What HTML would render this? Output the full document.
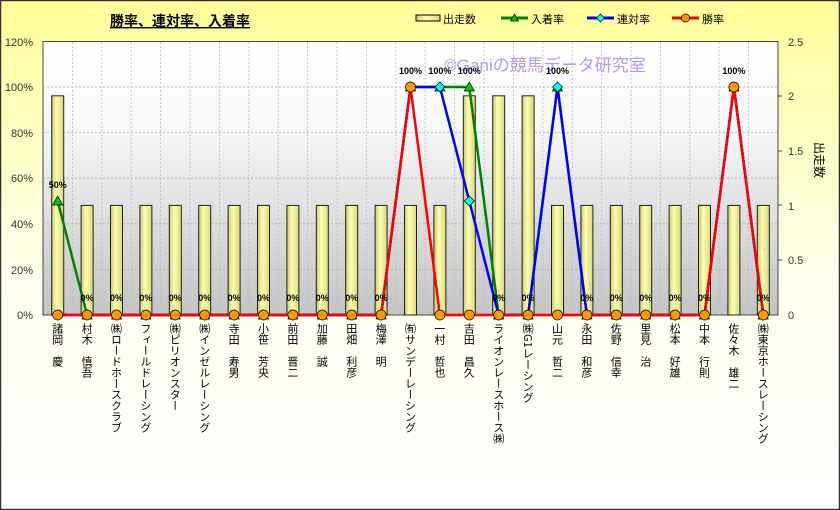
<!DOCTYPE html>
<html><head><meta charset="utf-8"><style>
html,body{margin:0;padding:0;width:840px;height:510px;overflow:hidden}
svg{display:block;font-family:"Liberation Sans","Noto Sans CJK JP",sans-serif}
.v{writing-mode:vertical-rl;-webkit-writing-mode:vertical-rl;font-family:"Noto Sans CJK JP",sans-serif}
</style></head><body>
<svg width="840" height="510" viewBox="0 0 840 510" xmlns="http://www.w3.org/2000/svg">
<defs>
<linearGradient id="bg" x1="0" y1="0" x2="0" y2="1"><stop offset="0" stop-color="#ffff99"/><stop offset="0.55" stop-color="#fffff0"/><stop offset="1" stop-color="#ffffff"/></linearGradient>
<linearGradient id="pa" x1="0" y1="0" x2="0" y2="1"><stop offset="0" stop-color="#ffffff"/><stop offset="0.3" stop-color="#f8f8f8"/><stop offset="1" stop-color="#c4c4c4"/></linearGradient>
<linearGradient id="bar" x1="0" y1="0" x2="1" y2="0"><stop offset="0" stop-color="#c8c870"/><stop offset="0.4" stop-color="#ffffb0"/><stop offset="1" stop-color="#d8d880"/></linearGradient>
</defs>
<rect x="0.5" y="0.5" width="839" height="509" fill="url(#bg)" stroke="#333" stroke-width="1.5"/>
<text x="180" y="26" font-size="14" font-weight="bold" text-anchor="middle" text-decoration="underline" fill="#000">勝率、連対率、入着率</text>
<rect x="416" y="15" width="24" height="6" fill="url(#bar)" stroke="#000"/>
<text x="443" y="23" font-size="11">出走数</text>
<line x1="501" y1="18" x2="528" y2="18" stroke="#008000" stroke-width="3"/><polygon points="514.5,14 518.5,21 510.5,21" fill="#00cc00" stroke="#000" stroke-width="0.7"/>
<text x="531" y="23" font-size="11">入着率</text>
<line x1="587" y1="18" x2="614" y2="18" stroke="#0000ff" stroke-width="3"/><polygon points="600.5,14 604.5,18 600.5,22 596.5,18" fill="#00ffff" stroke="#000" stroke-width="0.7"/>
<text x="617" y="23" font-size="11">連対率</text>
<line x1="672" y1="18" x2="699" y2="18" stroke="#ff0000" stroke-width="3"/><circle cx="685.5" cy="18" r="4" fill="#ff9900" stroke="#000" stroke-width="0.7"/>
<text x="702" y="23" font-size="11">勝率</text>
<rect x="43" y="41.5" width="735" height="273.5" fill="url(#pa)" stroke="#444"/>
<g stroke="#aaa" stroke-width="0.8" stroke-dasharray="2,2">
<line x1="43" y1="87" x2="778" y2="87"/><line x1="43" y1="132.6" x2="778" y2="132.6"/><line x1="43" y1="178.2" x2="778" y2="178.2"/><line x1="43" y1="223.8" x2="778" y2="223.8"/><line x1="43" y1="269.4" x2="778" y2="269.4"/>
</g>
<g id="vg" stroke="#bbb" stroke-width="0.8" stroke-dasharray="2,2"></g>
<g font-size="11" fill="#333" text-anchor="end">
<text x="33" y="46">120%</text><text x="33" y="91">100%</text><text x="33" y="137">80%</text><text x="33" y="182">60%</text><text x="33" y="228">40%</text><text x="33" y="274">20%</text><text x="33" y="319">0%</text>
</g>
<g font-size="11" fill="#333">
<text x="788" y="46">2.5</text><text x="788" y="100">2</text><text x="788" y="155">1.5</text><text x="788" y="210">1</text><text x="788" y="264">0.5</text><text x="788" y="319">0</text>
</g>
<g stroke="#444"><line x1="778" y1="96" x2="782" y2="96"/><line x1="778" y1="151" x2="782" y2="151"/><line x1="778" y1="205" x2="782" y2="205"/><line x1="778" y1="260" x2="782" y2="260"/></g>
<text transform="translate(815,160) rotate(90)" font-size="12" fill="#000" text-anchor="middle">出走数</text>
<g id="bars"></g>
<text x="545" y="71" font-size="17" fill="#9999ee" text-anchor="middle" opacity="0.9">©Ganiの競馬データ研究室</text>
<g id="lines"></g>
<g id="xl" font-size="11" fill="#000"></g>
</svg>
<script>
var ns="http://www.w3.org/2000/svg";
function el(t,a,p,txt){var e=document.createElementNS(ns,t);for(var k in a)e.setAttribute(k,a[k]);if(txt!=null)e.textContent=txt;document.getElementById(p).appendChild(e);return e;}
var names=["諸岡　慶","村木　慎吾","㈱ロードホースクラブ","フィールドレーシング","㈱ピリオンスター","㈱インゼルレーシング","寺田　寿男","小笹　芳央","前田　晋二","加藤　誠","田畑　利彦","梅澤　明","㈲サンデーレーシング","一村　哲也","吉田　昌久","ライオンレースホース㈱","㈱G1レーシング","山元　哲二","永田　和彦","佐野　信幸","里見　治","松本　好雄","中本　行則","佐々木　雄二","㈱東京ホースレーシング"];
var n=25,L=43,W=735/25;
function X(i){return L+W*(i+0.5);}
function Y(p){return 315-p*2.28;}
var cnt=[];for(var i=0;i<n;i++)cnt.push(1);cnt[0]=2;cnt[14]=2;cnt[15]=2;cnt[16]=2;
for(var i=1;i<n;i++)el("line",{x1:L+W*i,y1:42,x2:L+W*i,y2:315},"vg");
for(var i=0;i<n;i++){var h=cnt[i]*109.6;el("rect",{x:X(i)-6,y:315-h,width:12,height:h,fill:"url(#bar)",stroke:"#222","stroke-width":1},"bars");}
var win=[],ren=[],nyu=[];for(var i=0;i<n;i++){win.push(0);ren.push(0);nyu.push(0);}
win[12]=100;win[23]=100;ren[12]=100;ren[13]=100;ren[14]=50;ren[17]=100;ren[23]=100;
nyu[0]=50;nyu[12]=100;nyu[13]=100;nyu[14]=100;nyu[17]=100;nyu[23]=100;
function pts(a){return a.map(function(v,i){return X(i)+","+Y(v)}).join(" ");}
el("polyline",{points:pts(nyu),fill:"none",stroke:"#008000","stroke-width":2.5},"lines");
el("polyline",{points:pts(ren),fill:"none",stroke:"#0000ff","stroke-width":2.5},"lines");
el("polyline",{points:pts(win),fill:"none",stroke:"#ff0000","stroke-width":2.5},"lines");
for(var i=0;i<n;i++){var x=X(i),y=Y(nyu[i]);el("polygon",{points:x+","+(y-5)+" "+(x+5)+","+(y+4)+" "+(x-5)+","+(y+4),fill:"#00cc00",stroke:"#000","stroke-width":0.7},"lines");}
for(var i=0;i<n;i++){var x=X(i),y=Y(ren[i]);el("polygon",{points:x+","+(y-5)+" "+(x+5)+","+y+" "+x+","+(y+5)+" "+(x-5)+","+y,fill:"#00ffff",stroke:"#000","stroke-width":0.7},"lines");}
for(var i=0;i<n;i++){el("circle",{cx:X(i),cy:Y(win[i]),r:5,fill:"#ff9900",stroke:"#000","stroke-width":0.7},"lines");}
for(var i=0;i<n;i++){var v=Math.max(nyu[i],ren[i],win[i]);var t=v==100?"100%":(v==50?"50%":"0%");var y=v==0?301:Y(v)-13;
el("text",{x:X(i),y:y,"font-size":9,"font-weight":"bold","text-anchor":"middle",fill:"#000"},"lines",t);}
for(var i=0;i<n;i++){el("text",{x:X(i),y:323,"class":"v","font-size":11},"xl",names[i]);}
</script>
</body></html>
